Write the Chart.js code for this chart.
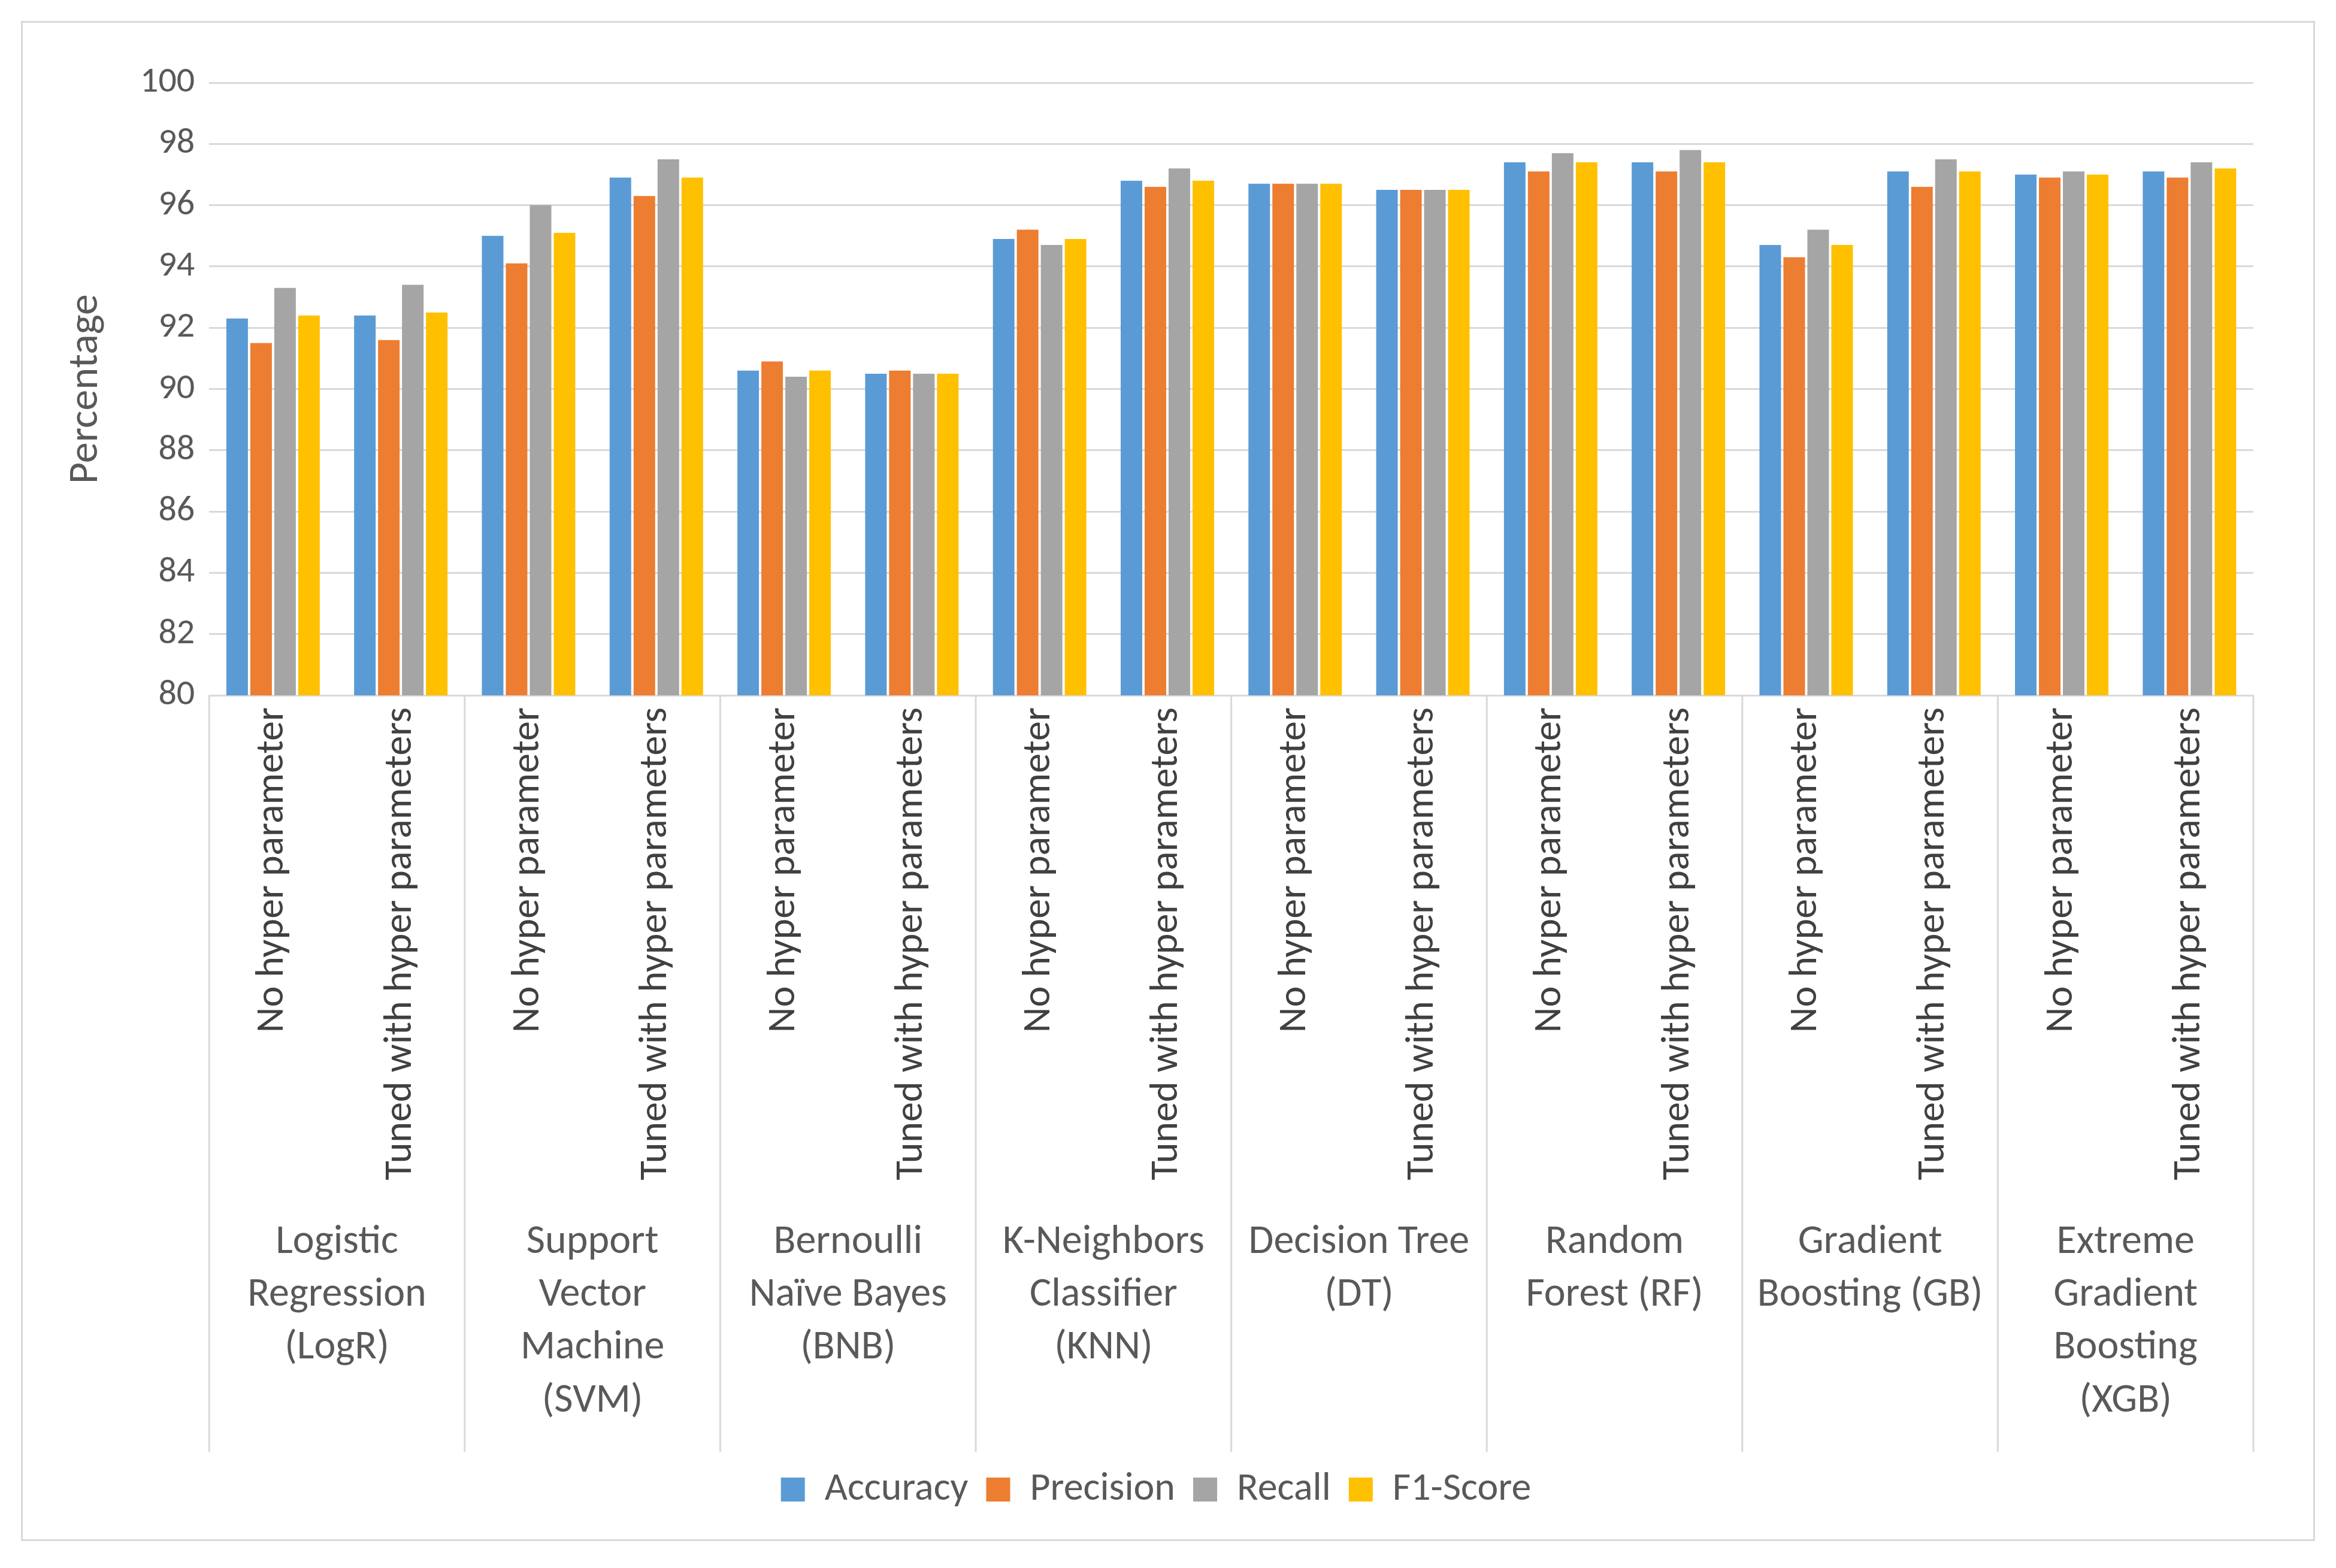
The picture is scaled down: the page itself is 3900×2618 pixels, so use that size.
<!DOCTYPE html>
<html>
<head>
<meta charset="utf-8">
<script src="https://cdn.jsdelivr.net/npm/chart.js@4"></script>
<style>
  html, body { margin: 0; background: #fff; }
  #frame { position: absolute; left: 35px; top: 35px; width: 3830px; height: 2538px; border: 3px solid #d9d9d9; box-sizing: border-box; }
  #wrap { position: absolute; left: 60px; top: 40px; right: 80px; bottom: 40px; }
</style>
</head>
<body>
<div id="frame"><div id="wrap"><canvas id="myChart"></canvas></div></div>
<script>
const groups = [
    ['Logistic', 'Regression', '(LogR)'],
    ['Support', 'Vector', 'Machine', '(SVM)'],
    ['Bernoulli', 'Naïve Bayes', '(BNB)'],
    ['K-Neighbors', 'Classifier', '(KNN)'],
    ['Decision Tree', '(DT)'],
    ['Random', 'Forest (RF)'],
    ['Gradient', 'Boosting (GB)'],
    ['Extreme', 'Gradient', 'Boosting', '(XGB)']
];
const settings = ['No hyper parameter', 'Tuned with hyper parameters'];
const accuracy  = [92.3, 92.4, 95.0, 96.9, 90.6, 90.5, 94.9, 96.8, 96.7, 96.5, 97.4, 97.4, 94.7, 97.1, 97.0, 97.1];
const precision = [91.5, 91.6, 94.1, 96.3, 90.9, 90.6, 95.2, 96.6, 96.7, 96.5, 97.1, 97.1, 94.3, 96.6, 96.9, 96.9];
const recall    = [93.3, 93.4, 96.0, 97.5, 90.4, 90.5, 94.7, 97.2, 96.7, 96.5, 97.7, 97.8, 95.2, 97.5, 97.1, 97.4];
const f1score   = [92.4, 92.5, 95.1, 96.9, 90.6, 90.5, 94.9, 96.8, 96.7, 96.5, 97.4, 97.4, 94.7, 97.1, 97.0, 97.2];
const yTicks = [80, 82, 84, 86, 88, 90, 92, 94, 96, 98, 100];

const labels = [];
groups.forEach(() => settings.forEach(s => labels.push(s)));

Chart.defaults.font.family = "Carlito, 'Liberation Sans', sans-serif";
Chart.defaults.color = '#595959';

// vertical separators between model groups, under the plot
const separators = {
    id: 'separators',
    afterDraw(chart) {
        const ctx = chart.ctx;
        const x2 = chart.scales.x2;
        const half = (x2.getPixelForValue(1) - x2.getPixelForValue(0)) / 2;
        ctx.save();
        ctx.strokeStyle = '#d9d9d9';
        ctx.lineWidth = 3;
        for (let i = 0; i <= groups.length; i++) {
            const x = i < groups.length ? x2.getPixelForValue(i) - half : chart.chartArea.right;
            ctx.beginPath();
            ctx.moveTo(x, chart.chartArea.bottom);
            ctx.lineTo(x, x2.bottom);
            ctx.stroke();
        }
        ctx.restore();
    }
};

const ctx = document.getElementById('myChart').getContext('2d');
const config = {
    type: 'bar',
    data: {
        labels: labels,
        datasets: [
            { label: 'Accuracy', data: accuracy, backgroundColor: '#5B9BD5' },
            { label: 'Precision', data: precision, backgroundColor: '#ED7D31' },
            { label: 'Recall', data: recall, backgroundColor: '#A5A5A5' },
            { label: 'F1-Score', data: f1score, backgroundColor: '#FFC000' }
        ]
    },
    plugins: [separators],
    options: {
        responsive: true,
        maintainAspectRatio: false,
        animation: false,
        layout: { padding: { top: 30, right: 20 } },
        datasets: { bar: { categoryPercentage: 0.75, barPercentage: 0.9 } },
        scales: {
            y: {
                min: 80, max: 100,
                afterBuildTicks: s => { s.ticks = yTicks.map(v => ({ value: v })); },
                ticks: { font: { size: 60 }, color: '#595959', padding: 24 },
                grid: { color: '#d9d9d9', lineWidth: 3, drawTicks: false },
                border: { display: false },
                title: { display: true, text: 'Percentage', font: { size: 70 }, color: '#595959', padding: { bottom: 24 } }
            },
            x: {
                ticks: { font: { size: 66 }, color: '#404040', autoSkip: false, minRotation: 90, maxRotation: 90, padding: 12 },
                grid: { display: false },
                border: { color: '#d9d9d9', width: 3 }
            },
            x2: {
                type: 'category',
                labels: groups,
                offset: true,
                position: 'bottom',
                ticks: { font: { size: 68, lineHeight: 1.3 }, color: '#595959', padding: 40 },
                grid: { display: false },
                border: { display: false }
            }
        },
        plugins: {
            legend: {
                display: true,
                position: 'bottom',
                labels: { font: { size: 66 }, color: '#595959', boxWidth: 40, boxHeight: 40, padding: 30 }
            },
            tooltip: { enabled: false }
        }
    }
};
new Chart(ctx, config);
</script>
</body>
</html>
